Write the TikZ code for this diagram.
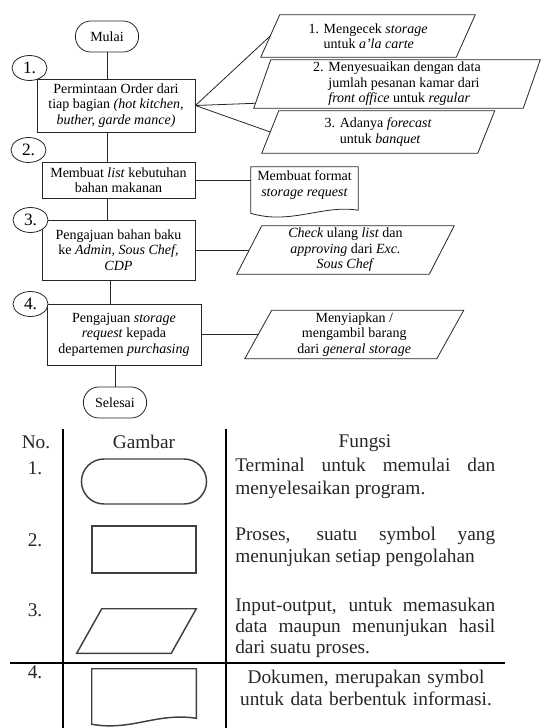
\documentclass[tikz,border=0pt]{standalone}
\usepackage{fontspec}
\setmainfont{Liberation Serif}
\usetikzlibrary{shapes.geometric,shapes.misc,calc}

\tikzset{
  sz/.style 2 args={minimum width=#1*0.75pt, minimum height=#2*0.75pt},
  flowfont/.style={font=\fontsize{10.5}{11.6}\selectfont},
  line/.style={draw=black!85, line width=0.6pt},
  proc/.style={line, rectangle, flowfont, align=center, inner sep=1pt},
  term/.style={line, rounded rectangle, flowfont, inner sep=1pt},
  io/.style={rectangle, flowfont, inner sep=0.5pt},
  numc/.style={line, ellipse, fill=white, inner sep=0pt, sz={35}{25},
    font=\fontsize{13}{14}\selectfont},
  conn/.style={line},
  tblfont/.style={font=\fontsize{14.5}{17}\selectfont, text=black!85},
  tshape/.style={draw=black!75, line width=1.1pt},
  rule/.style={draw=black, line width=1.2pt},
  fn/.style={tblfont, text width=195pt, align=justify, inner sep=0pt}
}

% parallelogram frame round a node: #1 style, #2 node name, #3 total horizontal slant
\newcommand\slantframe[3][line]{%
  \draw[#1] ($(#2.south west)+({-(#3)/2},0)$) -- ($(#2.north west)+({(#3)/2},0)$)
    -- ($(#2.north east)+({(#3)/2},0)$) -- ($(#2.south east)+({-(#3)/2},0)$) -- cycle;}

\begin{document}
\begin{tikzpicture}[x=0.75pt,y=-0.75pt]
\useasboundingbox (0,0) rectangle (544,728);

% ---- main flow ----
\node[term, sz={66}{31}] (start) at (107,36.5) {Mulai};
\node[proc, sz={158}{53}] (b1) at (116,105.5)
  {Permintaan Order dari\\tiap bagian \textit{(hot kitchen,}\\\textit{buther, garde mance)}};
\node[proc, sz={153}{36}] (b2) at (118.5,180)
  {Membuat \textit{list} kebutuhan\\bahan makanan};
\node[proc, sz={153}{60}] (b3) at (118.5,250)
  {Pengajuan bahan baku\\ke \textit{Admin, Sous Chef,}\\\textit{CDP}};
\node[proc, sz={154}{61}] (b4) at (124,334.5)
  {Pengajuan \textit{storage}\\\textit{request} kepada\\departemen \textit{purchasing}};
\node[term, sz={66}{31}] (stop) at (115,402.5) {Selesai};

% step numbers
\node[numc] (n1) at (29.5,68) {1.};
\node[numc] (n2) at (28.5,150) {2.};
\node[numc] (n3) at (30.5,220) {3.};
\node[numc] (n4) at (30.5,304) {4.};

% ---- side inputs / outputs ----
\node[io, sz={195}{42}, align=left] (i1) at (368,36)
  {1. Mengecek \textit{storage}\\\hphantom{1. }untuk \textit{a'la carte}};
\slantframe{i1}{19}
\node[io, sz={269}{48}, align=left] (i2) at (397,84)
  {2. Menyesuaikan dengan data\\\hphantom{2. }jumlah pesanan kamar dari\\\hphantom{2. }\textit{front office} untuk \textit{regular}};
\slantframe{i2}{17}
\node[io, sz={215.5}{42}, align=left] (i3) at (378.25,132)
  {3. Adanya \textit{forecast}\\\hphantom{3. }untuk \textit{banquet}};
\slantframe{i3}{17}
\node[io, sz={192}{48}, align=center] (i4) at (345.5,250)
  {\textit{Check} ulang \textit{list} dan\\\textit{approving} dari \textit{Exc.}\\\textit{Sous Chef}};
\slantframe{i4}{25}
\node[io, sz={191.5}{48}, align=center] (i5) at (354.25,334.5)
  {Menyiapkan /\\mengambil barang\\dari \textit{general storage}};
\slantframe{i5}{27}

% document symbol
\node[flowfont, align=center, inner sep=0pt, sz={107}{36}] (d1) at (304.5,185)
  {Membuat format\\\textit{storage request}};
\draw[line] (d1.north west) -- (d1.north east) -- ($(d1.south east)+(0,7)$)
  .. controls ($(d1.south east)+(-35,1)$) and ($(d1.south west)+(40,22)$) ..
  ($(d1.south west)+(0,10)$) -- cycle;

% ---- connectors ----
\draw[conn] (start.south) -- (start.south |- b1.north);
\draw[conn] (start.south |- b1.south) -- (start.south |- b2.north);
\draw[conn] (start.south |- b2.south) -- (start.south |- b3.north);
\draw[conn] ([xshift=-6.4pt]b3.south) -- ([xshift=-6.4pt]b3.south |- b4.north);
\draw[conn] (stop.north |- b4.south) -- (stop.north);
\draw[conn] (b1.east) -- (i1.west);
\draw[conn] (b1.east) -- ($(i2.south west)+(-6.7,-5)$);
\draw[conn] (b1.east) -- (i3.west);
\draw[conn] (b2.east) -- (b2.east -| d1.west);
\draw[conn] (b3.east) -- (i4.west);
\draw[conn] (b4.east) -- (i5.west);

% ---- legend table ----
\draw[rule] (63,429) -- (63,728);
\draw[rule] (226,429) -- (226,728);
\draw[rule] (10,663) -- (505,663);

\node[tblfont] (hno) at (36,442) {No.};
\node[tblfont] (hgb) at (144,442) {Gambar};
\node[tblfont] (hfn) at (365,443) {Fungsi};

\node[tblfont] (k1) at (35,468) {1.};
\node[tblfont] (k2) at (35,540) {2.};
\node[tblfont] (k3) at (35,610) {3.};
\node[tblfont] (k4) at (35,672) {4.};

\node[tshape, rounded rectangle, sz={134}{45}] (s1) at (144,481.5) {};
\node[tshape, rectangle, sz={104}{47}] (s2) at (144,549.5) {};
\node[inner sep=0pt, sz={94}{44}] (s3) at (136.5,631) {};
\slantframe[tshape]{s3}{25}
\node[inner sep=0pt, sz={104}{42}] (s4) at (144,690) {};
\draw[tshape] (s4.north west) -- (s4.north east) -- ($(s4.south east)+(0,7)$)
  .. controls ($(s4.south east)+(-40,1)$) and ($(s4.south west)+(40,20)$) ..
  ($(s4.south west)+(0,13)$) -- cycle;

\node[fn, anchor=west] (f1) at (235,478.5)
  {Terminal untuk memulai dan\linebreak menyelesaikan program.};
\node[fn, anchor=west] (f2) at (235,547)
  {Proses, suatu symbol yang\linebreak menunjukan setiap pengolahan};
\node[fn, anchor=west, font=\fontsize{14.5}{16}\selectfont] (f3) at (235,628)
  {Input-output, untuk memasukan\linebreak data maupun menunjukan hasil\linebreak dari suatu proses.};
\node[tblfont, text width=195pt, align=center, inner sep=0pt] (f4) at (366,688)
  {Dokumen, merupakan symbol\\untuk data berbentuk informasi.};
\end{tikzpicture}
\end{document}
